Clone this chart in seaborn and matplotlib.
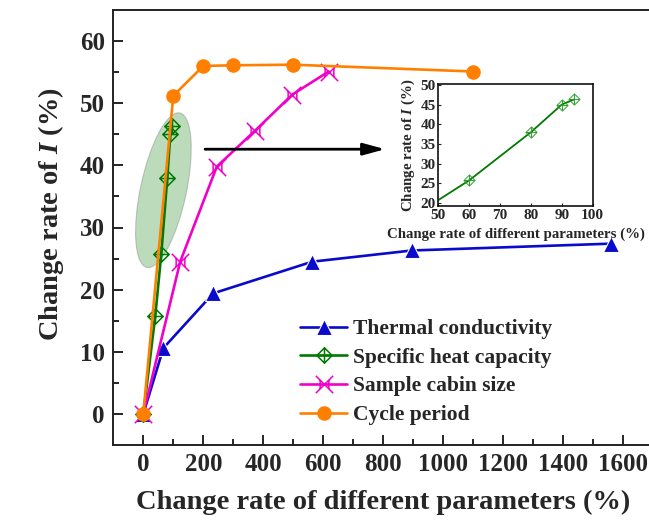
import numpy as np
import matplotlib
matplotlib.use("Agg")
import matplotlib.pyplot as plt
from matplotlib.path import Path
from matplotlib.patches import Ellipse
from matplotlib.transforms import IdentityTransform
import seaborn as sns

# ---- data ----
tc_x = [0, 67, 233, 563, 895, 1558]
tc_y = [0, 10.6, 19.4, 24.5, 26.3, 27.4]

shc_x = [0, 40, 60, 80, 90, 94]
shc_y = [0, 15.8, 25.8, 38.0, 45.0, 46.3]

scs_x = [0, 123, 245, 373, 497, 618]
scs_y = [0, 24.5, 39.8, 45.6, 51.4, 55.1]

cp_x = [0, 100, 200, 300, 500, 1100]
cp_y = [0, 51.2, 56.0, 56.1, 56.2, 55.1]

# zoomed view of the specific heat capacity curve
inset_x = [50, 60, 80, 90, 94]
inset_y = [20.8, 25.8, 38.0, 45.0, 46.3]
inset_mark_x = [60, 80, 90, 94]
inset_mark_y = [25.8, 38.0, 45.0, 46.3]

labels = ["Thermal conductivity", "Specific heat capacity",
          "Sample cabin size", "Cycle period"]
colors = ["#0A0ACC", "#007A00", "#F000C8", "#FF8000"]

x_ticks = [0, 200, 400, 600, 800, 1000, 1200, 1400, 1600]
y_ticks = [0, 10, 20, 30, 40, 50, 60]
inset_xticks = [50, 60, 70, 80, 90, 100]
inset_yticks = [20, 25, 30, 35, 40, 45, 50]

# ---- style ----
sns.set_theme(style="ticks")
plt.rcParams["font.family"] = ["Liberation Serif", "DejaVu Serif"]
plt.rcParams["font.weight"] = "bold"
plt.rcParams["axes.labelweight"] = "bold"
plt.rcParams["mathtext.fontset"] = "custom"
plt.rcParams["mathtext.it"] = "Liberation Serif:bold:italic"
plt.rcParams["mathtext.rm"] = "Liberation Serif:bold"

# custom markers
diamond_cross = Path(
    [(0, 1), (1, 0), (0, -1), (-1, 0), (0, 1),
     (0, 1), (0, -1), (-1, 0), (1, 0)],
    [Path.MOVETO, Path.LINETO, Path.LINETO, Path.LINETO, Path.CLOSEPOLY,
     Path.MOVETO, Path.LINETO, Path.MOVETO, Path.LINETO])
bowtie_x = Path(
    [(-1, -1), (1, 1), (-1, 1), (1, -1),
     (-0.5, -0.5), (-0.5, 0.5), (0.5, -0.5), (0.5, 0.5)],
    [Path.MOVETO, Path.LINETO, Path.MOVETO, Path.LINETO,
     Path.MOVETO, Path.LINETO, Path.MOVETO, Path.LINETO])

fig = plt.figure(figsize=(6.49, 5.23), dpi=100)
ax = fig.add_axes([113.3 / 649, 1 - 445 / 523, (653.3 - 113.3) / 649, 435 / 523])
ax.set_xlim(-100, 1700)
ax.set_ylim(-5, 65)

# highlighted region around the specific heat capacity points
cx, cy = ax.transData.transform((67, 36))
ax.add_patch(Ellipse((cx, cy), width=46, height=158, angle=-12,
                     transform=IdentityTransform(), facecolor="#3C9A3C",
                     alpha=0.35, edgecolor="#707070", lw=0.8, zorder=1))

lw = 1.9
sns.lineplot(x=tc_x, y=tc_y, ax=ax, color=colors[0], lw=lw, sort=False,
             marker="^", markersize=11.5, markeredgewidth=0.8,
             label=labels[0], zorder=3)
sns.lineplot(x=shc_x, y=shc_y, ax=ax, color=colors[1], lw=lw, sort=False,
             marker=diamond_cross, markersize=11, markeredgewidth=1.1,
             markerfacecolor="none", markeredgecolor=colors[1],
             label=labels[1], zorder=4)
sns.lineplot(x=scs_x, y=scs_y, ax=ax, color=colors[2], lw=lw, sort=False,
             marker=bowtie_x, markersize=12.5, markeredgewidth=1.1,
             markerfacecolor="none", markeredgecolor=colors[2],
             label=labels[2], zorder=4)
sns.lineplot(x=cp_x, y=cp_y, ax=ax, color=colors[3], lw=lw, sort=False,
             marker="o", markersize=10.5, markeredgewidth=0,
             label=labels[3], zorder=5)

ax.annotate("", xy=(806, 42.6), xytext=(206, 42.6),
            arrowprops=dict(arrowstyle="-|>,head_length=1.1,head_width=0.3",
                            color="black", lw=2.0, shrinkA=0, shrinkB=0),
            zorder=6)

ax.set_xticks(x_ticks)
ax.set_yticks(y_ticks)
ax.set_xticks(np.arange(100, 1700, 200), minor=True)
ax.set_yticks(np.arange(-5, 65, 10)[1:], minor=True)
ax.tick_params(which="major", direction="in", length=7, width=1.2,
               labelsize=18, color="black", pad=6)
ax.tick_params(which="minor", direction="in", length=4, width=1.2,
               color="black")
for lab in ax.get_xticklabels() + ax.get_yticklabels():
    lab.set_fontweight("bold")
for s in ax.spines.values():
    s.set_linewidth(1.4)
    s.set_color("#222222")

ax.set_xlabel("Change rate of different parameters (%)", fontsize=20.5,
              fontweight="bold", labelpad=10)
ax.set_ylabel("Change rate of $I$ (%)", fontsize=20.5, fontweight="bold",
              labelpad=10)
ax.yaxis.label.set_y(0.53)

leg = ax.legend(loc="upper left", bbox_to_anchor=(300 / 649, 1 - 319 / 523),
                bbox_transform=fig.transFigure, frameon=False, borderpad=0,
                borderaxespad=0, handlelength=2.2, handletextpad=0.25,
                labelspacing=0.4, prop={"weight": "bold", "size": 15.5})

# ---- inset ----
ins = fig.add_axes([438.3 / 649, 1 - 206 / 523, 154.4 / 649, 122 / 523])
sns.lineplot(x=inset_x, y=inset_y, ax=ins, color=colors[1], lw=1.3, sort=False)
sns.lineplot(x=inset_mark_x, y=inset_mark_y, ax=ins, linestyle="none",
             marker=diamond_cross, markersize=8, markeredgewidth=0.7,
             markerfacecolor="none", markeredgecolor="#2FA02F")
ins.set_xlim(50, 100)
ins.set_ylim(19.3, 50.2)
ins.set_xticks(inset_xticks)
ins.set_yticks(inset_yticks)
ins.tick_params(direction="in", length=2.5, width=0.8, labelsize=11, pad=2)
for lab in ins.get_xticklabels() + ins.get_yticklabels():
    lab.set_fontweight("bold")
for s in ins.spines.values():
    s.set_linewidth(1.2)
    s.set_color("#111111")
ins.set_xlabel("Change rate of different parameters (%)", fontsize=10.7,
               fontweight="bold", labelpad=4)
ins.set_ylabel("Change rate of $I$ (%)", fontsize=10.7, fontweight="bold",
               labelpad=2)

fig.savefig("out.png", dpi=100)
